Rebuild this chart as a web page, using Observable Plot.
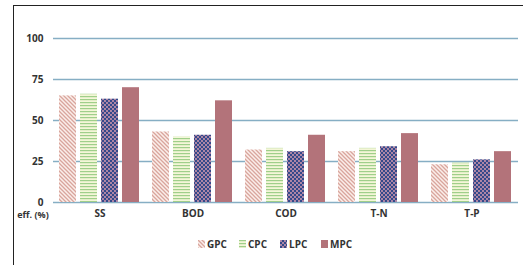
<!DOCTYPE html>
<html>
<head>
<meta charset="utf-8">
<script src="https://cdn.jsdelivr.net/npm/d3@7"></script>
<script src="https://cdn.jsdelivr.net/npm/@observablehq/plot@0.6"></script>
<style>
  html, body { margin: 0; padding: 0; background: #fff; }
  #wrap { position: relative; width: 523px; height: 265px; overflow: hidden; font-family: "Open Sans", "DejaVu Sans", sans-serif; }
  #frame { position: absolute; left: 13px; top: 5px; width: 520px; height: 270px; border-left: 1.5px solid #222; border-top: 1.5px solid #222; box-sizing: border-box; }
  #chart { position: absolute; left: 0; top: 0; }
  #chart svg text { font-weight: 700; fill: #333; }
  #ylab { position: absolute; left: 13px; top: 210px; width: 40px; text-align: center; font-size: 9px; line-height: 9px; font-weight: 700; color: #333; }
  #legend { position: absolute; left: 198px; top: 237px; display: flex; font-size: 10px; font-weight: 700; color: #333; }
  .item { width: 41px; display: flex; align-items: center; }
  .item svg { margin-right: 2px; }
</style>
</head>
<body>
<div id="wrap">
  <svg width="0" height="0" style="position:absolute">
    <defs>
      <pattern id="p-gpc" width="4" height="4" patternUnits="userSpaceOnUse">
        <rect width="4" height="4" fill="#fbeeea"/>
        <path d="M-1,-1 L5,5 M-1,3 L1,5 M3,-1 L5,1" stroke="#d9a59c" stroke-width="1.3"/>
      </pattern>
      <pattern id="p-cpc" width="3" height="3" patternUnits="userSpaceOnUse">
        <rect width="3" height="3" fill="#f4f6d8"/>
        <rect width="3" height="1.2" fill="#9fcf8a"/>
      </pattern>
      <pattern id="p-lpc" width="4" height="4" patternUnits="userSpaceOnUse">
        <rect width="4" height="4" fill="#34498a"/>
        <circle cx="1" cy="1" r="0.9" fill="#e6a2b4"/>
        <circle cx="3" cy="3" r="0.9" fill="#e6a2b4"/>
      </pattern>
    </defs>
  </svg>
  <div id="frame"></div>
  <div id="chart"></div>
  <div id="ylab">eff. (%)</div>
  <div id="legend"></div>
</div>
<script>
const categories = ["SS", "BOD", "COD", "T-N", "T-P"];
const series = ["GPC", "CPC", "LPC", "MPC"];
const GPC = [65, 43, 32, 31, 23];
const CPC = [66, 40, 33, 33, 24];
const LPC = [63, 41, 31, 34, 26];
const MPC = [70, 62, 41, 42, 31];
const yTicks = [0, 25, 50, 75, 100];
const fills = ["url(#p-gpc)", "url(#p-cpc)", "url(#p-lpc)", "#b3737a"];

const valuesBySeries = {GPC, CPC, LPC, MPC};
const data = [];
categories.forEach((c, i) => series.forEach(s => data.push({cat: c, series: s, value: valuesBySeries[s][i]})));

const chart = Plot.plot({
  width: 523,
  height: 230,
  marginLeft: 53,
  marginRight: 5,
  marginTop: 38,
  marginBottom: 28,
  style: {fontFamily: "'Open Sans', 'DejaVu Sans', sans-serif", fontSize: "10px", color: "#333", background: "transparent"},
  facet: {data, x: "cat", marginBottom: 28},
  fx: {domain: categories, padding: 0, label: null, tickSize: 0, tickPadding: 7},
  x: {domain: series, axis: null, paddingInner: 0.175, paddingOuter: 0.28},
  y: {domain: [0, 100], ticks: yTicks, label: null, tickSize: 0, tickPadding: 10},
  color: {type: "ordinal", domain: series, range: fills},
  marks: [
    Plot.ruleY(yTicks, {stroke: "#86aec4", strokeWidth: 1.6}),
    Plot.barY(data, {x: "series", y: "value", fill: "series"})
  ]
});
document.getElementById("chart").appendChild(chart);

const legend = document.getElementById("legend");
series.forEach((s, i) => {
  const item = document.createElement("div");
  item.className = "item";
  item.innerHTML = `<svg width="7" height="8"><rect width="7" height="8" fill="${fills[i]}"/></svg><span>${s}</span>`;
  legend.appendChild(item);
});
</script>
</body>
</html>
